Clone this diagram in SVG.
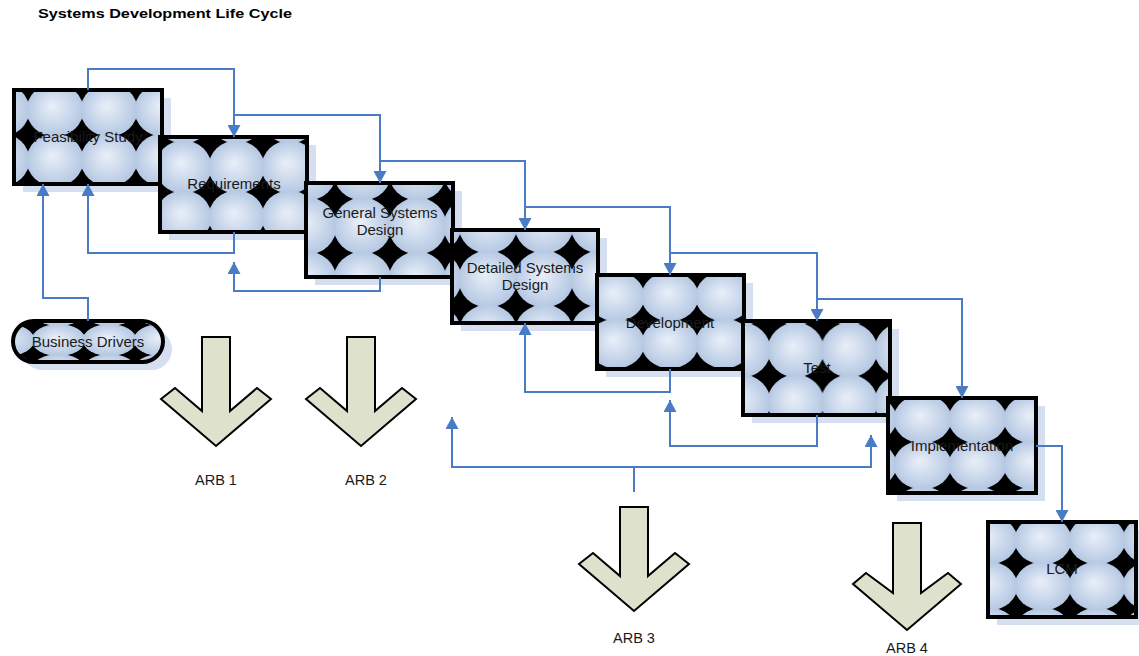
<svg xmlns="http://www.w3.org/2000/svg" width="1139" height="656" viewBox="0 0 1139 656">
  <style>
    .lbl { font-family: "Liberation Sans", Arial, sans-serif; font-size: 15px; fill: #1a1a1a; text-anchor: middle; }
    .arb { font-family: "Liberation Sans", Arial, sans-serif; font-size: 14.5px; fill: #1a1a1a; text-anchor: middle; }
    .title { font-family: "Liberation Sans", Arial, sans-serif; font-size: 13.5px; font-weight: bold; fill: #000; }
    .box { stroke: #000; stroke-width: 4; }
    .shadow { fill: #d5dff0; }
    .gate { fill: #dee2cd; stroke: #000; stroke-width: 2; stroke-linejoin: miter; }
    .conn { fill: none; stroke: #4a7bc4; stroke-width: 2; }
    .arr { marker-end: url(#ah); }
  </style>
  <defs>
    <radialGradient id="glow" cx="50%" cy="50%" r="50%" fx="45%" fy="42%">
      <stop offset="0" stop-color="#e9eff8"/>
      <stop offset="0.5" stop-color="#d0dcee"/>
      <stop offset="0.92" stop-color="#b9cbe4"/>
      <stop offset="1" stop-color="#b4c6e1"/>
    </radialGradient>
    <marker id="ah" viewBox="0 0 12 13" refX="12" refY="6.5" markerWidth="12" markerHeight="13" markerUnits="userSpaceOnUse" orient="auto">
      <path d="M0,0 L12,6.5 L0,13 z" fill="#4a7bc4"/>
    </marker>
    <!-- bubble fills: black ground with slightly overlapping shaded ellipses clipped to each tile, one phase per shape -->
    <pattern id="pFeas" patternUnits="userSpaceOnUse" x="28" y="85" width="54" height="50">
      <rect width="54" height="50" fill="#000"/><ellipse cx="27" cy="25" rx="28.5" ry="26.4" fill="url(#glow)"/>
    </pattern>
    <pattern id="pReq" patternUnits="userSpaceOnUse" x="210" y="142" width="53" height="50">
      <rect width="53" height="50" fill="#000"/><ellipse cx="26.5" cy="25" rx="28" ry="26.4" fill="url(#glow)"/>
    </pattern>
    <pattern id="pGsd" patternUnits="userSpaceOnUse" x="335" y="199" width="55" height="54">
      <rect width="55" height="54" fill="#000"/><ellipse cx="27.5" cy="27" rx="29" ry="28.5" fill="url(#glow)"/>
    </pattern>
    <pattern id="pDsd" patternUnits="userSpaceOnUse" x="460" y="252" width="56" height="54">
      <rect width="56" height="54" fill="#000"/><ellipse cx="28" cy="27" rx="29.5" ry="28.5" fill="url(#glow)"/>
    </pattern>
    <pattern id="pDev" patternUnits="userSpaceOnUse" x="643" y="320" width="54" height="47">
      <rect width="54" height="47" fill="#000"/><ellipse cx="27" cy="23.5" rx="28.5" ry="24.8" fill="url(#glow)"/>
    </pattern>
    <pattern id="pTest" patternUnits="userSpaceOnUse" x="769" y="324" width="53.5" height="52">
      <rect width="53.5" height="52" fill="#000"/><ellipse cx="26.75" cy="26" rx="28.2" ry="27.4" fill="url(#glow)"/>
    </pattern>
    <pattern id="pImpl" patternUnits="userSpaceOnUse" x="950" y="442" width="55" height="46">
      <rect width="55" height="46" fill="#000"/><ellipse cx="27.5" cy="23" rx="29" ry="24.3" fill="url(#glow)"/>
    </pattern>
    <pattern id="pLcm" patternUnits="userSpaceOnUse" x="1016" y="563" width="54" height="46">
      <rect width="54" height="46" fill="#000"/><ellipse cx="27" cy="23" rx="28.5" ry="24.3" fill="url(#glow)"/>
    </pattern>
    <pattern id="pBiz" patternUnits="userSpaceOnUse" x="33" y="325" width="51" height="30">
      <rect width="51" height="30" fill="#000"/><ellipse cx="25.5" cy="15" rx="27" ry="15.9" fill="url(#glow)"/>
    </pattern>
  </defs>

  <rect width="1139" height="656" fill="#fff"/>

  <text class="title" x="38" y="18" textLength="254" lengthAdjust="spacingAndGlyphs">Systems Development Life Cycle</text>

  <!-- phase boxes, stepped down to the right -->
  <g id="feasibility">
    <rect class="shadow" x="23" y="98" width="148" height="94"/>
    <rect class="box" x="14" y="90" width="148" height="94" fill="url(#pFeas)"/>
    <text class="lbl" x="88" y="142">Feasibility Study</text>
  </g>
  <g id="requirements">
    <rect class="shadow" x="169" y="145" width="147" height="95"/>
    <rect class="box" x="160" y="137" width="147" height="95" fill="url(#pReq)"/>
    <text class="lbl" x="234" y="189">Requirements</text>
  </g>
  <g id="general-design">
    <rect class="shadow" x="315" y="191" width="147" height="94"/>
    <rect class="box" x="306" y="183" width="147" height="94" fill="url(#pGsd)"/>
    <text class="lbl" x="380" y="218">General Systems</text>
    <text class="lbl" x="380" y="235">Design</text>
  </g>
  <g id="detailed-design">
    <rect class="shadow" x="461" y="238" width="146" height="93"/>
    <rect class="box" x="452" y="230" width="146" height="93" fill="url(#pDsd)"/>
    <text class="lbl" x="525" y="273">Detailed Systems</text>
    <text class="lbl" x="525" y="290">Design</text>
  </g>
  <g id="development">
    <rect class="shadow" x="606" y="283" width="147" height="94"/>
    <rect class="box" x="597" y="275" width="147" height="94" fill="url(#pDev)"/>
    <text class="lbl" x="670" y="328">Development</text>
  </g>
  <g id="test">
    <rect class="shadow" x="752" y="329" width="147" height="94"/>
    <rect class="box" x="743" y="321" width="147" height="94" fill="url(#pTest)"/>
    <text class="lbl" x="817" y="373">Test</text>
  </g>
  <g id="implementation">
    <rect class="shadow" x="897" y="406" width="148" height="95"/>
    <rect class="box" x="888" y="398" width="148" height="95" fill="url(#pImpl)"/>
    <text class="lbl" x="962" y="451">Implementation</text>
  </g>
  <g id="lcm">
    <rect class="shadow" x="997" y="530" width="148" height="95"/>
    <rect class="box" x="988" y="522" width="148" height="95" fill="url(#pLcm)"/>
    <text class="lbl" x="1062" y="574">LCM</text>
  </g>
  <g id="business-drivers">
    <rect class="shadow" x="22" y="329" width="150" height="41" rx="20.5"/>
    <rect class="box" x="13" y="321" width="150" height="41" rx="20.5" fill="url(#pBiz)"/>
    <text class="lbl" x="88" y="347">Business Drivers</text>
  </g>

  <!-- review board gates -->
  <g id="arb1">
    <polygon class="gate" points="202,337 230,337 230,411 257,388 271,399 216,446 161,399 175,388 202,411"/>
    <text class="arb" x="216" y="485">ARB 1</text>
  </g>
  <g id="arb2">
    <polygon class="gate" points="347,337 375,337 375,411 402,388 416,399 361,446 306,399 320,388 347,411"/>
    <text class="arb" x="366" y="485">ARB 2</text>
  </g>
  <g id="arb3">
    <polygon class="gate" points="620,507 648,507 648,576 675,553 689,564 634,611 579,564 593,553 620,576"/>
    <text class="arb" x="634" y="643">ARB 3</text>
  </g>
  <g id="arb4">
    <polygon class="gate" points="893,523 921,523 921,593 948,573 961,584 907,630 853,584 866,573 893,593"/>
    <text class="arb" x="907" y="653">ARB 4</text>
  </g>

  <!-- flow connectors -->
  <g id="connectors">
    <path class="conn arr" d="M88,90 V69 H234 V137"/>
    <path class="conn arr" d="M234,137 V115 H380 V183"/>
    <path class="conn arr" d="M380,183 V161 H525 V230"/>
    <path class="conn arr" d="M525,230 V207 H670 V275"/>
    <path class="conn arr" d="M670,275 V253 H817 V321"/>
    <path class="conn arr" d="M817,321 V299 H962 V398"/>
    <path class="conn arr" d="M1036,446 H1062 V522"/>

    <path class="conn arr" d="M234,232 V253 H88 V184"/>
    <path class="conn arr" d="M88,321 V298 H43 V184"/>
    <path class="conn arr" d="M380,277 V291 H234 V262"/>
    <path class="conn arr" d="M670,369 V392 H525 V323"/>
    <path class="conn arr" d="M817,415 V446 H670 V400"/>
    <path class="conn arr" d="M634,492 V467 H452 V417"/>
    <path class="conn arr" d="M634,467 H871 V435"/>
  </g>
</svg>
